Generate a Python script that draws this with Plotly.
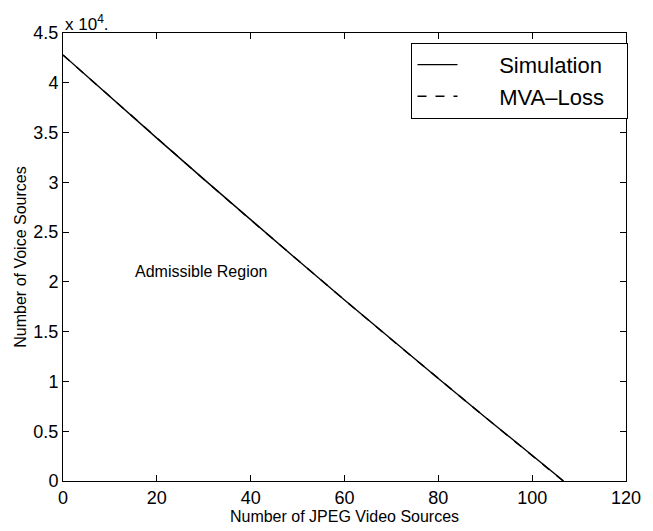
import plotly.graph_objects as go

# Data (voice sources in units of 1)
jpeg_sim = [0, 10, 20, 30, 40, 50, 60, 70, 80, 90, 100, 106.7]
voice_sim = [42800, 38600, 34440, 30320, 26240, 22190, 18190, 14220, 10300, 6410, 2560, 0]
jpeg_mva = [0, 10, 20, 30, 40, 50, 60, 70, 80, 90, 100, 106.6]
voice_mva = [42780, 38590, 34430, 30310, 26230, 22180, 18180, 14210, 10290, 6400, 2550, 0]

x_ticks = [0, 20, 40, 60, 80, 100, 120]
y_ticks = [0, 5000, 10000, 15000, 20000, 25000, 30000, 35000, 40000, 45000]
y_tick_text = ["0", "0.5", "1", "1.5", "2", "2.5", "3", "3.5", "4", "4.5"]

font_family = "Liberation Sans, Arial, sans-serif"
pad_l = "\u00a0" * 6
pad_r = "\u00a0" * 3

fig = go.Figure()
fig.add_trace(go.Scatter(x=jpeg_sim, y=voice_sim, mode="lines",
                         name=pad_l + "Simulation" + pad_r,
                         line=dict(color="black", width=1.4)))
fig.add_trace(go.Scatter(x=jpeg_mva, y=voice_mva, mode="lines",
                         name=pad_l + "MVA\u2013Loss" + pad_r,
                         line=dict(color="black", width=1.4, dash="dash")))

axis_common = dict(showline=True, linecolor="black", linewidth=1, mirror="ticks",
                   ticks="inside", ticklen=6, tickcolor="black", showgrid=False,
                   zeroline=False, tickfont=dict(size=18, color="black", family=font_family))

fig.update_xaxes(range=[0, 120], tickvals=x_ticks,
                 title=dict(text="Number of JPEG Video Sources", standoff=0,
                            font=dict(size=16, color="black", family=font_family)),
                 **axis_common)
fig.update_yaxes(range=[0, 45000], tickvals=y_ticks, ticktext=y_tick_text,
                 title=dict(text="Number of Voice Sources", standoff=2,
                            font=dict(size=16, color="black", family=font_family)),
                 **axis_common)

fig.add_annotation(text="x 10<sup>4</sup>.", xref="paper", yref="paper", x=0, y=1,
                   xanchor="left", yanchor="bottom", showarrow=False, yshift=-3,
                   font=dict(size=17, color="black", family=font_family))
fig.add_annotation(text="Admissible Region", x=29.5, y=21000, showarrow=False,
                   font=dict(size=16, color="black", family=font_family))

fig.update_layout(
    width=653, height=531,
    margin=dict(l=63, r=17, t=33, b=49),
    paper_bgcolor="white", plot_bgcolor="white",
    font=dict(family=font_family, color="black"),
    showlegend=True,
    legend=dict(x=0.619, y=0.978, xanchor="left", yanchor="top",
                bordercolor="black", borderwidth=1, bgcolor="white",
                font=dict(size=22, color="black", family=font_family),
                itemwidth=40, tracegroupgap=0),
)

fig.write_html("out.html")
